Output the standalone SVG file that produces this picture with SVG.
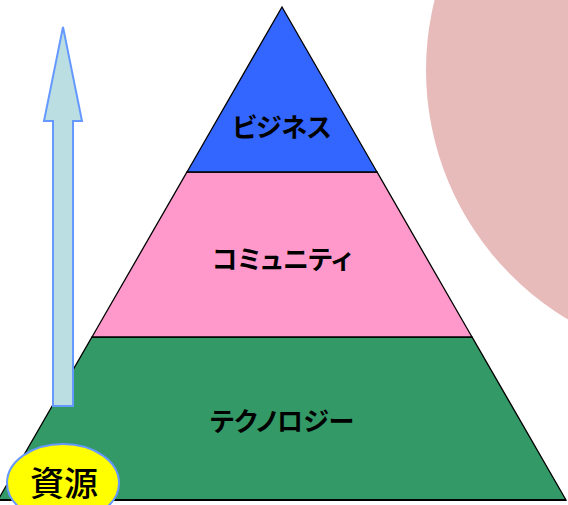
<svg xmlns="http://www.w3.org/2000/svg" width="568" height="505" viewBox="0 0 568 505">
<style>
.lbl{font-family:"Noto Sans CJK JP","Noto Sans",sans-serif;font-weight:bold;font-size:26px;fill:#000;text-anchor:middle;font-feature-settings:"palt";}
.tier{stroke:#000;stroke-width:1.3;}
.src{font-family:"Noto Sans CJK JP",sans-serif;font-size:34px;font-weight:500;fill:#000;text-anchor:middle;}
</style>
<rect width="568" height="505" fill="#fff"/>
<g id="deco-circle"><circle cx="716" cy="70" r="290" fill="#E8BBBB"/></g>
<g id="tier-technology">
<polygon class="tier" points="92,337 472,337 566,500 -2,500" fill="#339966"/>
<text class="lbl" x="282" y="431">テクノロジー</text>
</g>
<g id="tier-community">
<polygon class="tier" points="187,172 377,172 472,337 92,337" fill="#FF99CC"/>
<text class="lbl" x="282" y="269">コミュニティ</text>
</g>
<g id="tier-business">
<polygon class="tier" points="282,7 377,172 187,172" fill="#3366FF"/>
<text class="lbl" x="282" y="137">ビジネス</text>
</g>
<line x1="-2" y1="500" x2="566" y2="500" stroke="#000" stroke-width="2"/>
<g id="connectors">
<polygon id="resource-arrow" points="63,27 82,121 73,121 73,406 53,406 53,121 44,121" fill="#BBDEE2" stroke="#6699FF" stroke-width="2" stroke-linejoin="miter"/>
</g>
<g id="resource">
<ellipse cx="63" cy="483" rx="56" ry="39" fill="#FFFF00" stroke="#6699FF" stroke-width="2"/>
<text class="src" x="64" y="496">資源</text>
</g>
</svg>
